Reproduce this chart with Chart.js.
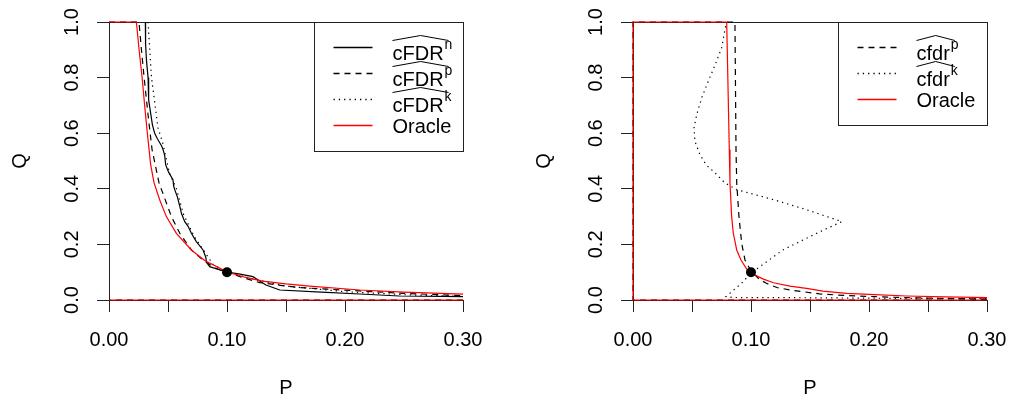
<!DOCTYPE html>
<html>
<head>
<meta charset="utf-8">
<script src="https://cdn.jsdelivr.net/npm/chart.js@4"></script>
<style>
  body { margin: 0; background: #fff; }
  #wrap { display: flex; width: 1011px; height: 402px; }
  canvas { display: block; }
</style>
</head>
<body>
<div id="wrap">
  <canvas id="left" width="505" height="402"></canvas>
  <canvas id="right" width="506" height="402"></canvas>
</div>
<script>
// axes
const xTicks = [0, 0.05, 0.1, 0.15, 0.2, 0.25, 0.3];
const xTickLabels = ['0.00', '', '0.10', '', '0.20', '', '0.30'];
const yTicks = [0, 0.2, 0.4, 0.6, 0.8, 1];
const yTickLabels = ['0.0', '0.2', '0.4', '0.6', '0.8', '1.0'];

// left panel: cFDR estimates (null = break in the line)
const nLP = [0.0308, 0.031, 0.0318, 0.0331, 0.0336, 0.035, 0.0368, 0.0387, 0.041, 0.0445, 0.0458, 0.0472, 0.048, 0.0505, 0.0542, 0.0548, 0.0557, 0.058, 0.060, 0.0615, 0.0642, 0.067, 0.0698, 0.074, 0.0797, 0.082, 0.0826, 0.0854, 0.094, 0.1, 0.11, 0.122, 0.127, 0.133, 0.1447, 0.18, 0.2125, 0.246, 0.3];
const nLQ = [1, 0.92, 0.86, 0.80, 0.72, 0.68, 0.63, 0.60, 0.58, 0.555, 0.541, 0.52, 0.487, 0.46, 0.433, 0.41, 0.397, 0.37, 0.337, 0.31, 0.282, 0.265, 0.24, 0.21, 0.18, 0.154, 0.136, 0.12, 0.108, 0.1, 0.094, 0.084, 0.07, 0.054, 0.036, 0.028, 0.0216, 0.0144, 0.012];
const pLP = [0.3, 0, null, 0, 0.0254, 0.0275, 0.0297, 0.0335, 0.0365, 0.0424, 0.0529, 0.060, 0.0698, 0.080, 0.09, 0.1, 0.114, 0.1277, 0.16, 0.2125, 0.25, 0.3];
const pLQ = [0, 0, null, 1, 1, 0.9, 0.803, 0.65, 0.541, 0.421, 0.30, 0.24, 0.18, 0.142, 0.115, 0.1, 0.08, 0.0625, 0.045, 0.0325, 0.024, 0.0156];
const kLP = [0.0331, 0.036, 0.0415, 0.0455, 0.0512, 0.0571, 0.063, 0.072, 0.080, 0.0881, 0.1, 0.12, 0.15, 0.2, 0.25, 0.3];
const kLQ = [1, 0.8, 0.62, 0.565, 0.457, 0.40, 0.31, 0.23, 0.18, 0.128, 0.1, 0.078, 0.05, 0.03, 0.019, 0.013];
const oracleLP = [0.3, 0, null, 0, 0.0232, 0.0255, 0.028, 0.0302, 0.0325, 0.0353, 0.0382, 0.043, 0.0486, 0.0571, 0.0698, 0.0811, 0.0995, 0.115, 0.13, 0.15, 0.17, 0.2125, 0.25, 0.3];
const oracleLQ = [0, 0, null, 1, 1, 0.9, 0.803, 0.70, 0.60, 0.487, 0.421, 0.36, 0.30, 0.24, 0.18, 0.142, 0.102, 0.082, 0.068, 0.058, 0.050, 0.036, 0.028, 0.021];

// right panel: cfdr estimates
const pRP = [0.3, 0, 0, 0.0864, 0.0873, 0.0879, 0.0898, 0.0921, 0.0949, 0.1, 0.102, 0.107, 0.113, 0.122, 0.133, 0.158, 0.181, 0.205, 0.232, 0.265, 0.3];
const pRQ = [0, 0, 1, 1, 0.541, 0.421, 0.30, 0.204, 0.144, 0.105, 0.096, 0.075, 0.06, 0.045, 0.036, 0.022, 0.016, 0.012, 0.0083, 0.0058, 0.0036];
const kRP = [0.0785, 0.0751, 0.0697, 0.0638, 0.0582, 0.054, 0.0517, 0.0525, 0.0567, 0.0618, 0.07, 0.0779, 0.0878, 0.0931, 0.119, 0.147, 0.177, 0.1557, 0.127, 0.1076, 0.1006, 0.092, 0.0836, 0.0788, 0.085, 0.15, 0.22, 0.3];
const kRQ = [0.985, 0.907, 0.847, 0.787, 0.727, 0.667, 0.619, 0.571, 0.523, 0.487, 0.455, 0.421, 0.397, 0.391, 0.361, 0.325, 0.282, 0.24, 0.18, 0.12, 0.1, 0.06, 0.03, 0.012, 0.009, 0.008, 0.006, 0.005];
const oracleRP = [0.3, 0, 0, 0.0794, 0.0816, 0.0822, 0.0836, 0.085, 0.0879, 0.0915, 0.0969, 0.1, 0.1034, 0.11, 0.119, 0.133, 0.147, 0.161, 0.181, 0.205, 0.232, 0.265, 0.3];
const oracleRQ = [0, 0, 1, 1, 0.541, 0.421, 0.30, 0.24, 0.18, 0.144, 0.108, 0.1, 0.09, 0.076, 0.062, 0.05, 0.042, 0.032, 0.024, 0.019, 0.0144, 0.011, 0.0084];

// the marked point
const dotP = [0.1];
const dotQ = [0.1];

// legend entries: name, superscript
const leftLegend = [['cFDR', 'n'], ['cFDR', 'p'], ['cFDR', 'k'], ['Oracle', '']];
const rightLegend = [['cfdr', 'p'], ['cfdr', 'k'], ['Oracle', '']];

const FONT = '"Liberation Sans", Arial, sans-serif';
const RED = 'rgb(255, 0, 0)';
const DASHED = [6, 5];
const DOTTED = [1.3, 4];

const pts = (ps, qs) => ps.map((p, i) => (p === null ? {x: null, y: null} : {x: p, y: qs[i]}));

function line(ps, qs, color, dash) {
  return {
    type: 'scatter', showLine: true, data: pts(ps, qs),
    borderColor: color, borderWidth: 1.2, borderDash: dash,
    pointRadius: 0, tension: 0, clip: false, spanGaps: false
  };
}

function dot() {
  return {
    type: 'scatter', data: pts(dotP, dotQ),
    pointRadius: 5, backgroundColor: '#000', borderColor: '#000', borderWidth: 0
  };
}

// R-style legend box: widehat over the name, superscript after it
function rLegend(entries, styles, w, h) {
  return {
    id: 'rLegend',
    afterDraw(chart) {
      const {ctx, chartArea: ca} = chart;
      const x0 = Math.round(ca.right - w) + 0.5;
      const y0 = Math.round(ca.top) + 0.5;
      ctx.save();
      ctx.fillStyle = '#fff';
      ctx.fillRect(x0, y0, w, h);
      ctx.strokeStyle = '#222';
      ctx.lineWidth = 1;
      ctx.setLineDash([]);
      ctx.strokeRect(x0, y0, w, h);
      entries.forEach(([text, sup], i) => {
        const ry = y0 + 25 + 26 * i;
        const tx = x0 + 78;
        ctx.fillStyle = '#000';
        ctx.font = '20px ' + FONT;
        if (sup) {
          ctx.fillText(text, tx, ry + 12);
          const tw = ctx.measureText(text).width;
          ctx.font = '14px ' + FONT;
          ctx.fillText(sup, tx + tw + 1, ry + 1);
          ctx.strokeStyle = '#000';
          ctx.lineWidth = 1;
          ctx.setLineDash([]);
          ctx.beginPath();
          ctx.moveTo(tx, ry - 7);
          ctx.lineTo(tx + (tw + 5) / 2, ry - 12);
          ctx.lineTo(tx + tw + 5, ry - 7);
          ctx.stroke();
        } else {
          ctx.fillText(text, tx, ry + 7.5);
        }
        // sample line
        ctx.beginPath();
        ctx.strokeStyle = styles[i][0];
        ctx.lineWidth = 1.3;
        ctx.setLineDash(styles[i][1]);
        ctx.moveTo(x0 + 19, ry);
        ctx.lineTo(x0 + 58, ry);
        ctx.stroke();
        ctx.setLineDash([]);
      });
      ctx.restore();
    }
  };
}

function makeChart(id, datasets, pad, legendPlugin) {
  return new Chart(document.getElementById(id), {
    data: {datasets},
    plugins: [legendPlugin],
    options: {
      responsive: false,
      animation: false,
      devicePixelRatio: 1,
      layout: {padding: pad},
      plugins: {legend: {display: false}, tooltip: {enabled: false}},
      scales: {
        x: {
          type: 'linear', min: 0, max: 0.3,
          afterBuildTicks: (s) => { s.ticks = xTicks.map(v => ({value: v})); },
          afterFit: (s) => { s.height = 100; s.paddingLeft = 0; s.paddingRight = 0; },
          ticks: {
            callback: (v, i) => xTickLabels[i],
            autoSkip: false, maxRotation: 0, padding: 16,
            color: '#000', font: {family: FONT, size: 20}
          },
          grid: {drawOnChartArea: false, drawTicks: true, tickLength: 12, color: '#222'},
          border: {display: true, color: '#222', width: 1},
          title: {display: true, text: 'P', color: '#000', font: {family: FONT, size: 20}, padding: {top: 0, bottom: 0}}
        },
        xTop: {
          type: 'linear', position: 'top', min: 0, max: 0.3,
          afterFit: (s) => { s.height = 0; s.paddingLeft = 0; s.paddingRight = 0; },
          ticks: {display: false},
          grid: {display: false},
          border: {display: true, color: '#222', width: 1}
        },
        y: {
          type: 'linear', min: 0, max: 1,
          afterBuildTicks: (s) => { s.ticks = yTicks.map(v => ({value: v})); },
          afterFit: (s) => { s.width = 105; s.paddingTop = 0; s.paddingBottom = 0; },
          ticks: {
            callback: (v, i) => yTickLabels[i],
            autoSkip: false, minRotation: 90, maxRotation: 90, crossAlign: 'center', padding: 11,
            color: '#000', font: {family: FONT, size: 20}
          },
          grid: {drawOnChartArea: false, drawTicks: true, tickLength: 12, color: '#222'},
          border: {display: true, color: '#222', width: 1},
          title: {display: true, text: 'Q', color: '#000', font: {family: FONT, size: 20}, padding: {top: 4, bottom: 4}}
        }
      }
    }
  });
}

makeChart('left', [
  dot(),
  line(oracleLP, oracleLQ, RED, []),
  line(nLP, nLQ, '#000', []),
  line(pLP, pLQ, '#000', DASHED),
  line(kLP, kLQ, '#000', DOTTED)
], {left: 4, right: 42, top: 22, bottom: 2},
  rLegend(leftLegend, [['#000', []], ['#000', DASHED], ['#000', DOTTED], [RED, []]], 149, 129));

makeChart('right', [
  dot(),
  line(oracleRP, oracleRQ, RED, []),
  line(pRP, pRQ, '#000', DASHED),
  line(kRP, kRQ, '#000', DOTTED)
], {left: 23, right: 24, top: 22, bottom: 2},
  rLegend(rightLegend, [['#000', DASHED], ['#000', DOTTED], [RED, []]], 149, 103));
</script>
</body>
</html>
